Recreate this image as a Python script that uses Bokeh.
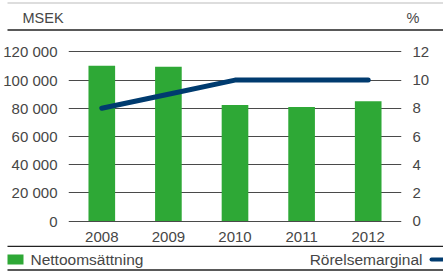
from bokeh.plotting import figure
from bokeh.models import Range1d, LinearAxis, FixedTicker, FactorRange, ColumnDataSource
from bokeh.layouts import column
from bokeh.core.properties import value
from bokeh.embed import file_html
from bokeh.resources import INLINE

years = ["2008", "2009", "2010", "2011", "2012"]
nettoomsattning = [110200, 109400, 82400, 81000, 85000]
rorelsemarginal = [8, 9, 10, 10, 10]
left_ticks = [0, 20000, 40000, 60000, 80000, 100000, 120000]
left_tick_labels = ["0", "20 000", "40 000", "60 000", "80 000", "100 000", "120 000"]
right_ticks = [0, 2, 4, 6, 8, 10, 12]

GREEN = "#2EA836"
NAVY = "#003B6F"
TEXT = "#464646"
FONT = "Liberation Sans"
W = 443


def no_align(fig):
    try:
        fig.frame_align = False
    except Exception:
        pass


# header
h = figure(width=W, height=36, x_range=Range1d(0, W), y_range=Range1d(36, 0),
           output_backend="svg", toolbar_location=None, min_border=0)
h.axis.visible = False
h.grid.visible = False
h.outline_line_color = None
h.segment(x0=[7], y0=[2.5], x1=[W], y1=[2.5], line_color="#bbbbbb", line_width=1)
h.text(x=[22], y=[17.5], text=["MSEK"], text_font=value(FONT), text_font_size="14.5px",
       text_color=TEXT, text_baseline="middle", text_align="left")
h.text(x=[406], y=[17.5], text=["%"], text_font=value(FONT), text_font_size="14.5px",
       text_color=TEXT, text_baseline="middle", text_align="left")
h.segment(x0=[7], y0=[29.5], x1=[W], y1=[29.5], line_color="#222222", line_width=1.5)
no_align(h)

# main
p = figure(width=W, height=209, x_range=FactorRange(*years, range_padding=0),
           y_range=Range1d(-1000, 121000), output_backend="svg", toolbar_location=None,
           min_border_left=66, min_border_right=42, min_border_top=14, min_border_bottom=23)
p.outline_line_color = None
p.extra_y_ranges = {"pct": Range1d(-0.1, 12.1)}
src = ColumnDataSource(dict(year=years, sales=nettoomsattning, margin=rorelsemarginal))
p.vbar(x="year", top="sales", width=0.4, source=src, fill_color=GREEN, line_color=None)
p.line(x="year", y="margin", source=src, y_range_name="pct", line_color=NAVY,
       line_width=5, line_cap="round")

p.yaxis.ticker = FixedTicker(ticks=left_ticks)
p.yaxis.major_label_overrides = {t: l for t, l in zip(left_ticks, left_tick_labels)}
right = LinearAxis(y_range_name="pct", ticker=FixedTicker(ticks=right_ticks))
p.add_layout(right, "right")
for ax in p.axis:
    ax.axis_line_color = None
    ax.major_tick_line_color = None
    ax.minor_tick_line_color = None
    ax.major_label_text_font = FONT
    ax.major_label_text_font_size = "15px"
    ax.major_label_text_color = TEXT
    ax.major_label_standoff = 5
p.xaxis.major_label_standoff = 3
p.xgrid.visible = False
p.ygrid.ticker = FixedTicker(ticks=left_ticks)
p.ygrid.grid_line_color = "#4a4a4a"
p.ygrid.grid_line_width = 1
no_align(p)

# legend
g = figure(width=W, height=26, x_range=Range1d(0, W), y_range=Range1d(26, 0),
           output_backend="svg", toolbar_location=None, min_border=0)
g.axis.visible = False
g.grid.visible = False
g.outline_line_color = None
g.segment(x0=[7, 7], y0=[0.8, 24.5], x1=[W, W], y1=[0.8, 24.5], line_color="#222222", line_width=1.5)
g.quad(left=[7], right=[23], top=[9], bottom=[19], fill_color=GREEN, line_color=None)
g.text(x=[30], y=[14], text=["Nettoomsättning"], text_font=value(FONT), text_font_size="15.5px",
       text_color=TEXT, text_baseline="middle", text_align="left")
g.text(x=[422], y=[14], text=["Rörelsemarginal"], text_font=value(FONT), text_font_size="15.5px",
       text_color=TEXT, text_baseline="middle", text_align="right")
g.segment(x0=[431], y0=[14], x1=[W + 3], y1=[14], line_color=NAVY, line_width=4, line_cap="round")
no_align(g)

layout = column(h, p, g, spacing=0)
open("out.html", "w").write(file_html(layout, INLINE))
